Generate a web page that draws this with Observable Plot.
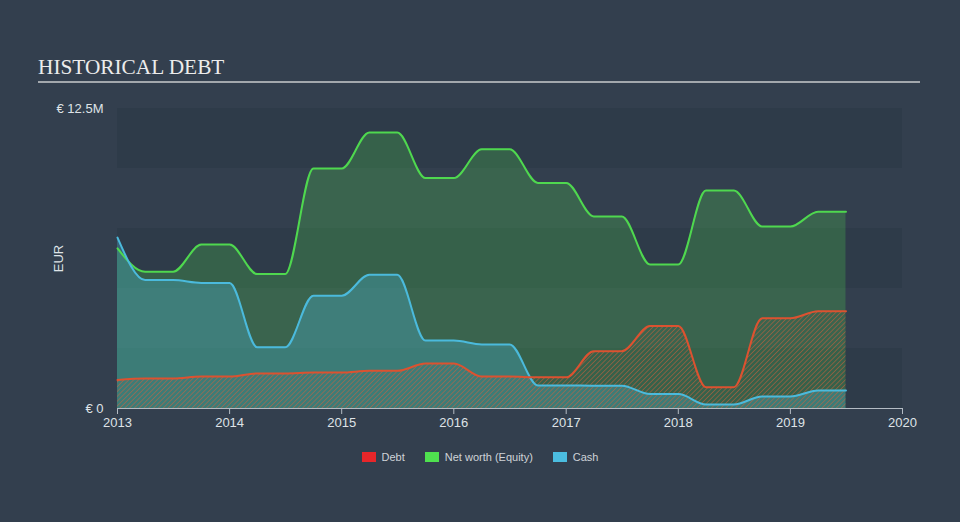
<!DOCTYPE html>
<html>
<head>
<meta charset="utf-8">
<script src="https://cdn.jsdelivr.net/npm/d3@7"></script>
<script src="https://cdn.jsdelivr.net/npm/@observablehq/plot@0.6"></script>
<style>
  html, body { margin: 0; padding: 0; background: #333f4e; width: 960px; height: 522px; overflow: hidden; }
  #title { position: absolute; left: 38px; top: 55px; font-family: "Liberation Serif", "DejaVu Serif", serif; font-size: 21.3px; color: #ececec; }
  #rule { position: absolute; left: 38px; top: 81px; width: 882px; height: 1.5px; background: #a3a8ad; }
  #chart { position: absolute; left: 0; top: 85px; }
  #legend { position: absolute; left: 0; top: 451px; width: 960px; display: flex; justify-content: center; font-family: "Liberation Sans", Arial, sans-serif; font-size: 11px; color: #cfd3d8; }
  .item { display: flex; align-items: center; margin: 0 10px; }
  .sw { width: 14px; height: 10px; margin-right: 6px; display: inline-block; }
</style>
</head>
<body>
<div id="title">HISTORICAL DEBT</div>
<div id="rule"></div>
<div id="chart"></div>
<div id="legend"></div>
<script>
// ---- data (values in EUR millions) ----
const dates = ["2013-01-01","2013-04-01","2013-07-01","2013-10-01","2014-01-01","2014-04-01","2014-07-01","2014-10-01",
  "2015-01-01","2015-04-01","2015-07-01","2015-10-01","2016-01-01","2016-04-01","2016-07-01","2016-10-01",
  "2017-01-01","2017-04-01","2017-07-01","2017-10-01","2018-01-01","2018-04-01","2018-07-01","2018-10-01",
  "2019-01-01","2019-04-01","2019-07-01"];
const debt   = [1.19, 1.25, 1.25, 1.33, 1.33, 1.46, 1.46, 1.50, 1.50, 1.57, 1.57, 1.87, 1.87, 1.33, 1.33, 1.30, 1.30, 2.39, 2.39, 3.44, 3.44, 0.89, 0.89, 3.76, 3.76, 4.05, 4.05];
const equity = [6.67, 5.70, 5.70, 6.83, 6.83, 5.60, 5.60, 10.0, 10.0, 11.5, 11.5, 9.60, 9.60, 10.8, 10.8, 9.40, 9.40, 8.00, 8.00, 6.00, 6.00, 9.08, 9.08, 7.58, 7.58, 8.20, 8.20];
const cash   = [7.12, 5.35, 5.35, 5.23, 5.23, 2.55, 2.55, 4.70, 4.70, 5.57, 5.57, 2.83, 2.83, 2.67, 2.67, 0.96, 0.96, 0.95, 0.95, 0.60, 0.60, 0.17, 0.17, 0.50, 0.50, 0.75, 0.75];
const yTicks = [0, 12.5];
const yTickLabels = ["€ 0", "€ 12.5M"];
const xYears = [2013, 2014, 2015, 2016, 2017, 2018, 2019, 2020];
const bandEdges = [0, 2.5, 5, 7.5, 10, 12.5];
const seriesNames = ["Debt", "Net worth (Equity)", "Cash"];
const seriesColors = ["#e8262a", "#4fe14f", "#4bbde0"];

// ---- build tables ----
const parse = d3.utcParse("%Y-%m-%d");
const rows = dates.map((d, i) => ({date: parse(d), debt: debt[i], equity: equity[i], cash: cash[i]}));
const xDomain = [new Date(Date.UTC(xYears[0], 0, 1)), new Date(Date.UTC(xYears[xYears.length - 1], 0, 1))];
const xTicks = xYears.map(y => new Date(Date.UTC(y, 0, 1)));
const bands = [];
for (let i = 0; i < bandEdges.length - 1; i += 2) bands.push({lo: bandEdges[i], hi: bandEdges[i + 1]});

const defsMark = () => {
  const ns = "http://www.w3.org/2000/svg";
  const defs = document.createElementNS(ns, "defs");
  defs.innerHTML = '<pattern id="hatch" width="3.4" height="3.4" patternUnits="userSpaceOnUse" patternTransform="rotate(45)">' +
    '<line x1="0" y1="0" x2="0" y2="3.4" stroke="#d4603a" stroke-opacity="0.8" stroke-width="1.2"/></pattern>';
  return defs;
};

const curve = "monotone-x";
const chart = Plot.plot({
  width: 960,
  height: 355,
  marginLeft: 117,
  marginRight: 58,
  marginTop: 23,
  marginBottom: 32,
  style: {background: "transparent", color: "#d8dce0", fontFamily: "'Liberation Sans', Arial, sans-serif", fontSize: "13px"},
  x: {type: "utc", domain: xDomain},
  y: {domain: [0, 12.5]},
  marks: [
    defsMark,
    Plot.rect(bands, {x1: () => xDomain[0], x2: () => xDomain[1], y1: "lo", y2: "hi", fill: "#2e3b49"}),
    Plot.areaY(rows, {x: "date", y: "equity", curve, fill: "#4fd24f", fillOpacity: 0.25}),
    Plot.areaY(rows, {x: "date", y: "cash", curve, fill: "#4bbde0", fillOpacity: 0.3}),
    Plot.areaY(rows, {x: "date", y: "debt", curve, fill: "url(#hatch)"}),
    Plot.lineY(rows, {x: "date", y: "equity", curve, stroke: "#4fd84f", strokeWidth: 2}),
    Plot.lineY(rows, {x: "date", y: "cash", curve, stroke: "#4bbadc", strokeWidth: 2}),
    Plot.lineY(rows, {x: "date", y: "debt", curve, stroke: "#dc5230", strokeWidth: 2}),
    Plot.ruleY([0], {stroke: "#b4bcc4", strokeWidth: 1}),
    Plot.axisX({ticks: xTicks, tickFormat: d3.utcFormat("%Y"), tickSize: 6, stroke: "#b4bcc4", tickPadding: 3, label: null, fill: "#dfe3e7"}),
    Plot.axisY({ticks: yTicks, tickFormat: (d) => yTickLabels[yTicks.indexOf(d)], tickSize: 0, tickPadding: 14, label: "EUR", labelAnchor: "center", labelOffset: 64, labelArrow: false, fill: "#dfe3e7"})
  ]
});
document.getElementById("chart").appendChild(chart);

const legend = document.getElementById("legend");
seriesNames.forEach((n, i) => {
  const it = document.createElement("div");
  it.className = "item";
  it.innerHTML = `<span class="sw" style="background:${seriesColors[i]}"></span><span>${n}</span>`;
  legend.appendChild(it);
});
</script>
</body>
</html>
